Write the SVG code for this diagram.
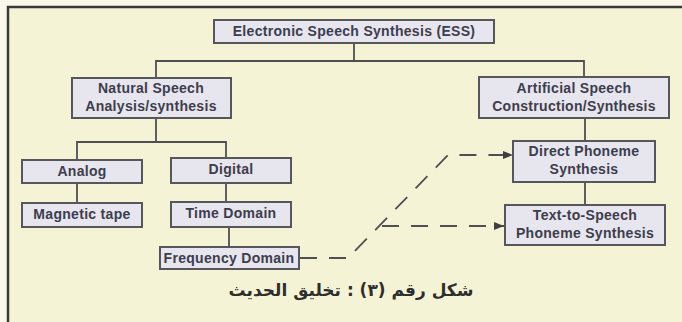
<svg xmlns="http://www.w3.org/2000/svg" width="682" height="322" viewBox="0 0 682 322">
<defs>
<style>
.box{fill:#e7e5ee;stroke:#56565c;stroke-width:2}
.t{font-family:"Liberation Sans",Arial,sans-serif;font-weight:bold;font-size:14px;fill:#3d3d4d;text-anchor:middle;letter-spacing:0.3px}
.ln{fill:none;stroke:#4f4f52;stroke-width:1.8}
.dash{fill:none;stroke:#4f4f52;stroke-width:1.8;stroke-dasharray:17 12}
</style>
<marker id="arr" viewBox="0 0 10 8" refX="10" refY="4" markerWidth="10" markerHeight="8" markerUnits="userSpaceOnUse" orient="auto">
<path d="M0,0 L10,4 L0,8 Z" fill="#3f3f42"/>
</marker>
</defs>
<rect x="0" y="0" width="682" height="322" fill="#f9f8ea"/>
<rect x="8" y="7" width="700" height="330" fill="#f5f3d6" stroke="#3a3a3a" stroke-width="2.5"/>

<g id="connectors">
<path class="ln" d="M354,43 V61 M156,78 V61 H584 V77"/>
<path class="ln" d="M156,118 V142 M77,160 V142 H226 V158"/>
<path class="ln" d="M77,183 V203"/>
<path class="ln" d="M226,183 V202"/>
<path class="ln" d="M229,227 V247"/>
<path class="ln" d="M585,118 V141 M585,182 V205"/>
<path class="dash" d="M300,258 H348 L448,155 H513" marker-end="url(#arr)"/>
<path class="dash" d="M382,226 H504" marker-end="url(#arr)"/>
</g>

<g id="ess"><rect class="box" x="214" y="20" width="280" height="23"/><text class="t" x="354" y="36">Electronic Speech Synthesis (ESS)</text></g>
<g id="natural"><rect class="box" x="72" y="78" width="159" height="40"/><text class="t" x="151" y="93">Natural Speech</text><text class="t" x="151" y="111">Analysis/synthesis</text></g>
<g id="artificial"><rect class="box" x="479" y="77" width="190" height="41"/><text class="t" x="574" y="93">Artificial Speech</text><text class="t" x="574" y="111">Construction/Synthesis</text></g>
<g id="analog"><rect class="box" x="22" y="160" width="120" height="23"/><text class="t" x="82" y="176">Analog</text></g>
<g id="digital"><rect class="box" x="171" y="158" width="120" height="25"/><text class="t" x="231" y="174">Digital</text></g>
<g id="magnetic"><rect class="box" x="22" y="203" width="120" height="24"/><text class="t" x="82" y="219">Magnetic tape</text></g>
<g id="time"><rect class="box" x="171" y="202" width="120" height="25"/><text class="t" x="231" y="218">Time Domain</text></g>
<g id="frequency"><rect class="box" x="160" y="247" width="139" height="22"/><text class="t" x="229" y="263">Frequency Domain</text></g>
<g id="direct"><rect class="box" x="513" y="141" width="142" height="41"/><text class="t" x="584" y="156">Direct Phoneme</text><text class="t" x="584" y="174">Synthesis</text></g>
<g id="tts"><rect class="box" x="505" y="205" width="160" height="40"/><text class="t" x="585" y="220">Text-to-Speech</text><text class="t" x="585" y="238">Phoneme Synthesis</text></g>

<text x="351" y="296" font-family="'DejaVu Sans',sans-serif" font-weight="bold" font-size="17" fill="#2e2e2e" text-anchor="middle" direction="rtl">شكل رقم (٣) : تخليق الحديث</text>
</svg>
